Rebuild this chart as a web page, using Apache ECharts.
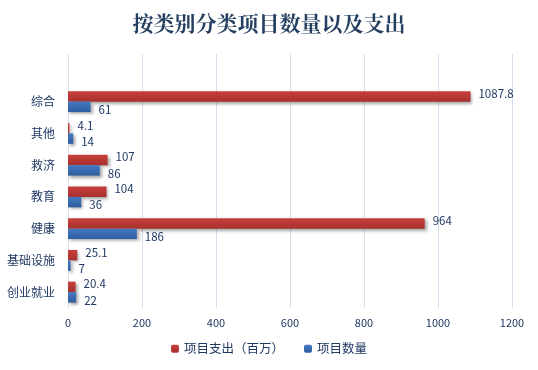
<!DOCTYPE html>
<html><head><meta charset="utf-8">
<script src="https://cdn.jsdelivr.net/npm/echarts@6/dist/echarts.min.js"></script>
<style>html,body{margin:0;padding:0;background:#fff}#c{width:538px;height:370px}</style>
</head><body><div id="c"></div>
<script>
var categories = ['创业就业','基础设施','健康','教育','救济','其他','综合',''];
var spending = [20.4, 25.1, 964, 104, 107, 4.1, 1087.8, '-'];
var counts = [22, 7, 186, 36, 86, 14, 61, '-'];
var xTicks = [0, 200, 400, 600, 800, 1000, 1200];
var seriesNames = ['项目支出（百万）', '项目数量'];

var txt = '#1F3864';
var font = '"Noto Sans CJK SC","Noto Sans",sans-serif';
var chart = echarts.init(document.getElementById('c'));
function grad(a, b) {
  return new echarts.graphic.LinearGradient(0, 0, 0, 1, [{offset:0,color:a},{offset:1,color:b}]);
}
chart.setOption({
  animation: false,
  title: {text: '按类别分类项目数量以及支出', left: 'center', top: 8,
    textStyle: {fontFamily: '"Noto Serif CJK SC","Noto Sans CJK SC",serif', fontWeight: 'bold', fontSize: 21, color: '#243F60'}},
  legend: {data: seriesNames, bottom: 10, left: 'center', itemWidth: 8, itemHeight: 8, itemGap: 20,
    textStyle: {color: txt, fontSize: 12.5, fontFamily: font}},
  grid: {left: 68, right: 26, top: 54, bottom: 62},
  xAxis: {type: 'value', min: xTicks[0], max: xTicks[xTicks.length-1], interval: 200,
    axisLine: {show: false}, axisTick: {show: false},
    axisLabel: {color: txt, fontSize: 11, margin: 9, fontFamily: font, formatter: function (v) { return String(v); }},
    splitLine: {lineStyle: {color: '#D6DFEE', width: 1}}},
  yAxis: {type: 'category', data: categories,
    axisLine: {show: false}, axisTick: {show: false},
    axisLabel: {color: txt, fontSize: 12, margin: 13, fontFamily: font}},
  series: [
    {name: seriesNames[0], type: 'bar', data: spending, barGap: '0%', barCategoryGap: '34%',
      itemStyle: {color: grad('#C8403C', '#A8302E'), shadowColor: 'rgba(0,0,0,0.35)', shadowBlur: 3, shadowOffsetX: 2, shadowOffsetY: 2},
      label: {show: true, position: 'right', distance: 8, offset: [0, -3], color: txt, fontSize: 11.5, fontFamily: font}},
    {name: seriesNames[1], type: 'bar', data: counts, barGap: '0%', barCategoryGap: '34%',
      itemStyle: {color: grad('#4479C2', '#2F5E9F'), shadowColor: 'rgba(0,0,0,0.35)', shadowBlur: 3, shadowOffsetX: 2, shadowOffsetY: 2},
      label: {show: true, position: 'right', distance: 8, offset: [0, 3], color: txt, fontSize: 11.5, fontFamily: font}}
  ]
});
</script></body></html>
